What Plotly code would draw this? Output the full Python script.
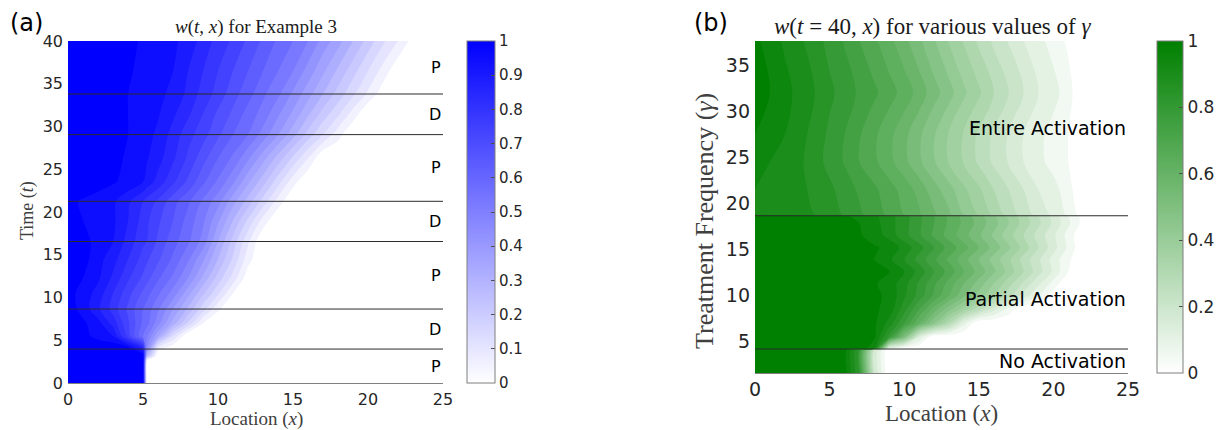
import plotly.graph_objects as go

# ---------------- panel (a): w(t, x) for Example 3 ----------------
loc_a = [0, 1, 2, 3, 4, 5, 5.25, 6, 7, 8, 9, 10, 11, 12, 13, 14, 15, 16, 17, 18,
         19, 20, 21, 22, 23, 24, 25]
time_a = [0, 2.5, 3.2, 3.97, 5.5, 7, 8.65, 10.5, 12.3, 14.5, 16.55, 19, 21.25,
          23.5, 26.3, 29.05, 31.5, 33.8, 36.5, 40]
w_a = [
    [1, 1, 1, 1, 1, 1, 0] + [0] * 20,
    [1, 1, 1, 1, 1, 1, 0] + [0] * 20,
    [1, 1, 1, 1, 1, 0.98, 0.3] + [0] * 20,
    [1, 1, 1, 1, 0.99, 0.85, 0.45, 0.07] + [0] * 19,
    [1, 0.97, 0.93, 0.90, 0.73, 0.55, 0.51, 0.36, 0.15] + [0] * 18,
    [1, 0.96, 0.92, 0.83, 0.71, 0.59, 0.57, 0.47, 0.33, 0.19, 0.05] + [0] * 16,
    [0.98, 0.93, 0.86, 0.78, 0.69, 0.60, 0.58, 0.51, 0.40, 0.29, 0.17, 0.06] + [0] * 15,
    [0.97, 0.93, 0.88, 0.80, 0.72, 0.64, 0.62, 0.56, 0.48, 0.37, 0.26, 0.16, 0.05] + [0] * 14,
    [1, 0.95, 0.91, 0.84, 0.76, 0.69, 0.67, 0.61, 0.54, 0.45, 0.34, 0.23, 0.13, 0.02] + [0] * 13,
    [1, 0.97, 0.92, 0.87, 0.80, 0.73, 0.71, 0.66, 0.59, 0.51, 0.41, 0.30, 0.19, 0.07] + [0] * 13,
    [1, 0.97, 0.93, 0.90, 0.83, 0.76, 0.75, 0.69, 0.62, 0.56, 0.48, 0.35, 0.23, 0.11] + [0] * 13,
    [0.97, 0.95, 0.93, 0.91, 0.85, 0.78, 0.76, 0.71, 0.65, 0.58, 0.51, 0.41, 0.30, 0.19, 0.08] + [0] * 12,
    [0.96, 0.945, 0.93, 0.91, 0.86, 0.80, 0.78, 0.74, 0.67, 0.61, 0.54, 0.47, 0.37, 0.28, 0.18, 0.08] + [0] * 11,
    [0.99, 0.98, 0.97, 0.955, 0.935, 0.90, 0.88, 0.83, 0.76, 0.69, 0.61, 0.54, 0.46, 0.36, 0.27, 0.17, 0.07] + [0] * 10,
    [1, 0.985, 0.975, 0.96, 0.945, 0.915, 0.905, 0.87, 0.81, 0.74, 0.67, 0.60, 0.54, 0.46, 0.37, 0.28, 0.19, 0.10] + [0] * 9,
    [1, 0.99, 0.975, 0.96, 0.95, 0.925, 0.915, 0.89, 0.83, 0.77, 0.72, 0.66, 0.60, 0.55, 0.48, 0.40, 0.32, 0.23, 0.15, 0.07] + [0] * 7,
    [1, 0.99, 0.975, 0.96, 0.95, 0.93, 0.92, 0.905, 0.86, 0.81, 0.75, 0.69, 0.64, 0.58, 0.53, 0.46, 0.39, 0.31, 0.23, 0.16, 0.08] + [0] * 6,
    [0.99, 0.985, 0.975, 0.96, 0.95, 0.93, 0.925, 0.91, 0.89, 0.835, 0.78, 0.73, 0.67, 0.62, 0.56, 0.51, 0.44, 0.37, 0.30, 0.23, 0.16, 0.09, 0.02] + [0] * 4,
    [1, 0.99, 0.98, 0.97, 0.955, 0.94, 0.935, 0.92, 0.90, 0.85, 0.80, 0.75, 0.70, 0.65, 0.60, 0.55, 0.50, 0.43, 0.36, 0.29, 0.22, 0.15, 0.08, 0.01] + [0] * 3,
    [1, 0.99, 0.98, 0.97, 0.96, 0.945, 0.94, 0.93, 0.91, 0.88, 0.83, 0.78, 0.74, 0.69, 0.64, 0.59, 0.55, 0.50, 0.43, 0.37, 0.30, 0.23, 0.16, 0.10, 0.03, 0, 0],
]
# treatment phase switches and phase names
phase_bounds_a = [3.97, 8.65, 16.55, 21.25, 29.05, 33.8]
phase_names_a = ["P", "D", "P", "D", "P", "D", "P"]

# ---------------- panel (b): w(t = 40, x) for various gamma ----------------
loc_b = list(range(0, 26))
gamma_b = [1.6, 4.15, 4.25, 5.5, 7, 8.5, 10, 11.3, 12.6, 13.9, 15.2, 16.5, 17.8,
           18.6, 18.75, 21.5, 24.5, 27.5, 32, 37.6]
w_b = [
    [1, 1, 1, 1, 1, 1, 0.98, 0.80, 0.20] + [0] * 17,
    [1, 1, 1, 1, 1, 1, 0.98, 0.80, 0.20] + [0] * 17,
    [1, 1, 1, 1, 1, 1, 1, 0.99, 0.90, 0.10] + [0] * 16,
    [1, 1, 1, 1, 1, 0.99, 0.99, 0.98, 0.96, 0.78, 0.50, 0.15] + [0] * 14,
    [1, 1, 1, 1, 0.99, 0.99, 0.98, 0.97, 0.96, 0.88, 0.75, 0.60, 0.45, 0.30, 0.12] + [0] * 11,
    [1, 1, 1, 1, 0.99, 0.99, 0.98, 0.97, 0.96, 0.93, 0.82, 0.70, 0.58, 0.47, 0.37, 0.27, 0.17, 0.08] + [0] * 8,
    [1, 1, 1, 1, 0.99, 0.99, 0.98, 0.97, 0.96, 0.94, 0.86, 0.78, 0.69, 0.60, 0.51, 0.43, 0.35, 0.27, 0.18, 0.10, 0.02] + [0] * 5,
    [1, 0.99, 0.99, 0.98, 0.98, 0.97, 0.97, 0.96, 0.955, 0.93, 0.87, 0.79, 0.71, 0.63, 0.55, 0.48, 0.40, 0.32, 0.24, 0.16, 0.08] + [0] * 5,
    [1, 0.99, 0.99, 0.98, 0.98, 0.97, 0.97, 0.96, 0.96, 0.95, 0.90, 0.83, 0.75, 0.68, 0.60, 0.53, 0.46, 0.38, 0.30, 0.22, 0.14, 0.05] + [0] * 4,
    [1, 0.99, 0.99, 0.98, 0.98, 0.97, 0.97, 0.96, 0.95, 0.91, 0.85, 0.78, 0.71, 0.64, 0.57, 0.50, 0.43, 0.36, 0.28, 0.21, 0.13, 0.06] + [0] * 4,
    [1, 0.99, 0.99, 0.98, 0.98, 0.97, 0.97, 0.96, 0.955, 0.94, 0.88, 0.82, 0.75, 0.68, 0.62, 0.55, 0.48, 0.41, 0.33, 0.25, 0.17, 0.09] + [0] * 4,
    [1, 0.99, 0.98, 0.98, 0.97, 0.97, 0.96, 0.955, 0.93, 0.88, 0.82, 0.76, 0.69, 0.63, 0.57, 0.51, 0.44, 0.37, 0.30, 0.23, 0.16, 0.08] + [0] * 4,
    [1, 0.99, 0.98, 0.98, 0.97, 0.97, 0.96, 0.95, 0.92, 0.87, 0.82, 0.76, 0.70, 0.64, 0.59, 0.53, 0.47, 0.40, 0.33, 0.26, 0.19, 0.11, 0.03] + [0] * 3,
    [0.99, 0.99, 0.98, 0.97, 0.97, 0.96, 0.955, 0.94, 0.91, 0.87, 0.82, 0.76, 0.70, 0.64, 0.58, 0.52, 0.46, 0.39, 0.32, 0.25, 0.18, 0.10, 0.03] + [0] * 3,
    [0.90, 0.895, 0.885, 0.87, 0.85, 0.825, 0.795, 0.76, 0.725, 0.69, 0.65, 0.61, 0.56, 0.51, 0.45, 0.395, 0.34, 0.28, 0.23, 0.18, 0.14, 0.09, 0.02] + [0] * 3,
    [0.90, 0.89, 0.88, 0.86, 0.84, 0.81, 0.78, 0.74, 0.71, 0.67, 0.63, 0.58, 0.52, 0.47, 0.41, 0.36, 0.30, 0.25, 0.20, 0.15, 0.12, 0.07] + [0] * 4,
    [0.91, 0.90, 0.88, 0.86, 0.82, 0.785, 0.745, 0.70, 0.66, 0.615, 0.565, 0.51, 0.455, 0.395, 0.345, 0.29, 0.24, 0.195, 0.15, 0.115, 0.08, 0.05] + [0] * 4,
    [0.95, 0.93, 0.90, 0.87, 0.83, 0.79, 0.75, 0.705, 0.66, 0.615, 0.565, 0.51, 0.455, 0.395, 0.345, 0.29, 0.24, 0.195, 0.15, 0.115, 0.08, 0.05] + [0] * 4,
    [0.97, 0.95, 0.92, 0.88, 0.85, 0.81, 0.78, 0.74, 0.71, 0.67, 0.63, 0.58, 0.52, 0.47, 0.41, 0.36, 0.30, 0.25, 0.20, 0.15, 0.12, 0.07] + [0] * 4,
    [0.96, 0.93, 0.89, 0.86, 0.82, 0.785, 0.745, 0.70, 0.66, 0.615, 0.565, 0.51, 0.455, 0.395, 0.345, 0.29, 0.24, 0.195, 0.15, 0.115, 0.08, 0.04] + [0] * 4,
]
# regime boundaries in gamma and their names
regime_bounds_b = [4.2, 18.65]
regime_names_b = ["No Activation", "Partial Activation", "Entire Activation"]

# ---------------- styling ----------------
W, H = 1220, 430
SANS = "DejaVu Sans"
SERIF = "Liberation Serif"
TICK_COLOR = "#262626"
LABEL_COLOR = "#404040"
blue_scale = [[0, "#ffffff"], [1, "#0000ff"]]
green_scale = [[0, "#ffffff"], [1, "#008000"]]


def px_x(p):
    return p / W


def px_y(p):
    return (H - p) / H


levels = dict(start=0.05, end=0.95, size=0.05, coloring="fill", showlines=False)

fig = go.Figure()

# smooth colour bars come from heatmaps lying under the banded contours
fig.add_trace(go.Heatmap(
    x=loc_a, y=time_a, z=w_a, colorscale=blue_scale, zmin=0, zmax=1,
    xaxis="x", yaxis="y", hoverinfo="skip",
    colorbar=dict(
        x=px_x(467), xanchor="left", xpad=0, ypad=0,
        y=px_y(212), yanchor="middle", len=342 / H, lenmode="fraction",
        thickness=28, thicknessmode="pixels",
        outlinewidth=1, outlinecolor="#7f7f7f",
        tick0=0, dtick=0.1, ticks="inside", ticklen=4, tickcolor="#4d4d4d",
        tickfont=dict(family=SANS, size=15, color=TICK_COLOR),
    ),
))
fig.add_trace(go.Contour(
    x=loc_a, y=time_a, z=w_a, colorscale=blue_scale, zmin=0, zmax=1,
    autocontour=False, contours=levels, line=dict(width=0, smoothing=0.9),
    showscale=False, xaxis="x", yaxis="y", hoverinfo="skip",
))

fig.add_trace(go.Heatmap(
    x=loc_b, y=gamma_b, z=w_b, colorscale=green_scale, zmin=0, zmax=1,
    xaxis="x2", yaxis="y2", hoverinfo="skip",
    colorbar=dict(
        x=px_x(1157), xanchor="left", xpad=0, ypad=0,
        y=px_y(207), yanchor="middle", len=332 / H, lenmode="fraction",
        thickness=26, thicknessmode="pixels",
        outlinewidth=1, outlinecolor="#7f7f7f",
        tick0=0, dtick=0.2, ticks="inside", ticklen=4, tickcolor="#4d4d4d",
        tickfont=dict(family=SANS, size=17, color=TICK_COLOR),
    ),
))
fig.add_trace(go.Contour(
    x=loc_b, y=gamma_b, z=w_b, colorscale=green_scale, zmin=0, zmax=1,
    autocontour=False, contours=levels, line=dict(width=0, smoothing=0.9),
    showscale=False, xaxis="x2", yaxis="y2", hoverinfo="skip",
))

# phase / regime separators
shapes = []
for b in phase_bounds_a:
    shapes.append(dict(type="line", xref="x", yref="y", x0=0, x1=25, y0=b, y1=b,
                       line=dict(color="#2b2b2b", width=1)))
for b in regime_bounds_b:
    shapes.append(dict(type="line", xref="x2", yref="y2", x0=0, x1=25, y0=b, y1=b,
                       line=dict(color="#2b2b2b", width=1)))

annotations = []
# phase letters, centred in each phase
edges_a = [0] + phase_bounds_a + [40]
for name, lo, hi in zip(phase_names_a, edges_a[:-1], edges_a[1:]):
    annotations.append(dict(text=name, xref="x", yref="y", x=25, y=(lo + hi) / 2,
                            xanchor="right", yanchor="middle", showarrow=False,
                            font=dict(family=SANS, size=16, color="black")))
# regime names
regime_y = [2.85, 9.6, 28.2]
for name, gy in zip(regime_names_b, regime_y):
    annotations.append(dict(text=name, xref="x2", yref="y2", x=25, y=gy,
                            xanchor="right", yanchor="middle", showarrow=False,
                            font=dict(family=SANS, size=19, color="black")))


def paper_text(text, x, y, font, angle=0, anchor="center"):
    annotations.append(dict(text=text, xref="paper", yref="paper", x=px_x(x), y=px_y(y),
                            xanchor=anchor, yanchor="middle", showarrow=False,
                            textangle=angle, font=font))


paper_text("(a)", 8, 23, dict(family=SANS, size=24, color="black"), anchor="left")
paper_text("(b)", 692, 23, dict(family=SANS, size=24, color="black"), anchor="left")
paper_text("<i>w</i>(<i>t</i>, <i>x</i>) for Example 3", 256, 27,
           dict(family=SERIF, size=19, color="#1a1a1a"))
paper_text("<i>w</i>(<i>t</i> = 40, <i>x</i>) for various values of <i>γ</i>", 932, 27,
           dict(family=SERIF, size=23, color="#1a1a1a"))
paper_text("Location (<i>x</i>)", 256, 419, dict(family=SERIF, size=19, color=LABEL_COLOR))
paper_text("Location (<i>x</i>)", 941, 413, dict(family=SERIF, size=23, color=LABEL_COLOR))
paper_text("Time (<i>t</i>)", 27, 211, dict(family=SERIF, size=18, color=LABEL_COLOR), angle=-90)
paper_text("Treatment Frequency (<i>γ</i>)", 704, 221,
           dict(family=SERIF, size=26, color=LABEL_COLOR), angle=-90)

axis_common = dict(showgrid=False, zeroline=False, ticks="", fixedrange=True)

fig.update_layout(
    width=W, height=H, margin=dict(l=0, r=0, t=0, b=0, autoexpand=False),
    paper_bgcolor="white", plot_bgcolor="white", showlegend=False,
    xaxis=dict(domain=[px_x(68), px_x(443)], range=[0, 25], anchor="y",
               tickvals=[0, 5, 10, 15, 20, 25], showline=True, linecolor="#808080",
               linewidth=1, ticklabelstandoff=2,
               tickfont=dict(family=SANS, size=16, color=TICK_COLOR), **axis_common),
    yaxis=dict(domain=[px_y(383), px_y(41)], range=[0, 40], anchor="x",
               tickvals=[0, 5, 10, 15, 20, 25, 30, 35, 40], showline=False,
               ticklabelstandoff=4,
               tickfont=dict(family=SANS, size=16, color=TICK_COLOR), **axis_common),
    xaxis2=dict(domain=[px_x(755), px_x(1128)], range=[0, 25], anchor="y2",
                tickvals=[0, 5, 10, 15, 20, 25], showline=True, linecolor="#808080",
                linewidth=1, ticklabelstandoff=-1,
                tickfont=dict(family=SANS, size=19, color=TICK_COLOR), **axis_common),
    yaxis2=dict(domain=[px_y(373), px_y(41)], range=[1.6, 37.6], anchor="x2",
                tickvals=[5, 10, 15, 20, 25, 30, 35], showline=False,
                ticklabelstandoff=4,
                tickfont=dict(family=SANS, size=19, color=TICK_COLOR), **axis_common),
    shapes=shapes,
    annotations=annotations,
)

fig.write_html("out.html")
